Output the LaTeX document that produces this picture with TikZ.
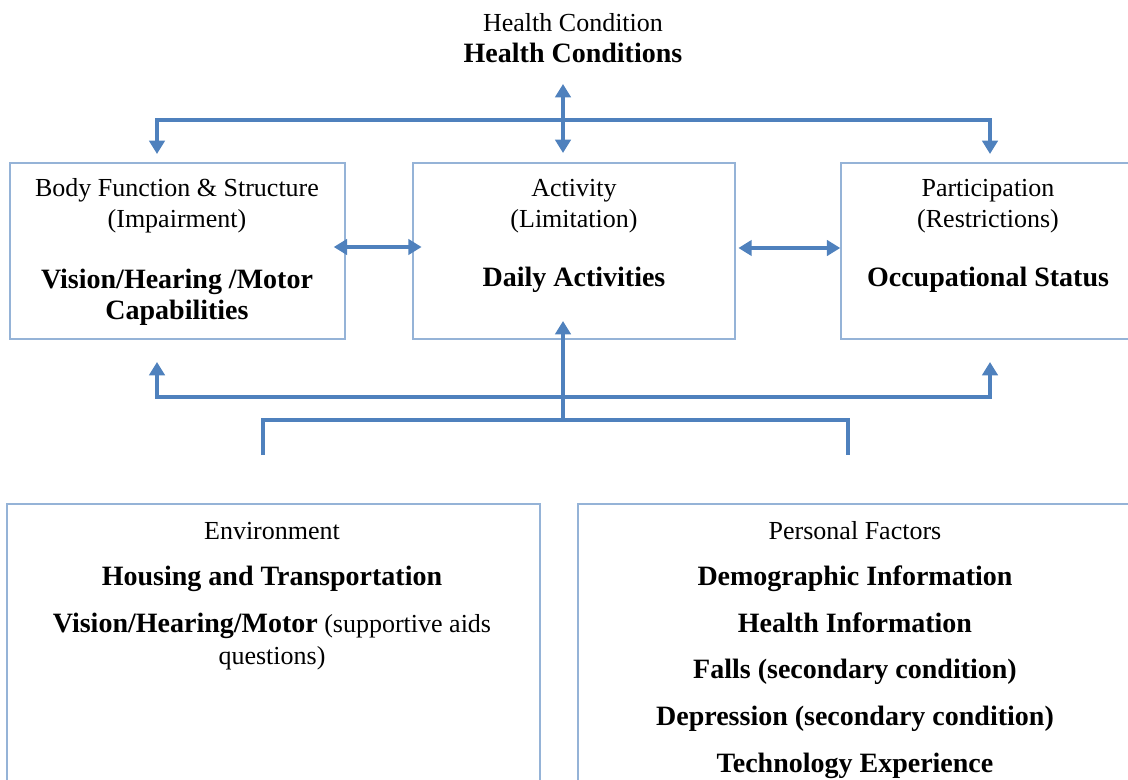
\documentclass[tikz,border=0pt]{standalone}
\usepackage{fontspec}
\setmainfont{Liberation Serif}
\usetikzlibrary{arrows.meta}
\definecolor{arrblue}{RGB}{79,129,189}
\definecolor{boxblue}{RGB}{149,179,215}
\tikzset{
  box/.style={draw=boxblue, line width=1.1pt, rectangle, inner sep=0pt},
  tip/.tip={Triangle[width=11.5pt,length=10pt]},
  arr/.style={draw=arrblue, line width=3pt, -tip},
  darr/.style={draw=arrblue, line width=3pt, tip-tip},
  plain/.style={draw=arrblue, line width=3pt},
  reg/.style={inner sep=0pt, anchor=base, font=\fontsize{19.5}{23}\selectfont},
  bld/.style={inner sep=0pt, anchor=base, font=\fontsize{21}{25}\selectfont\bfseries},
}
\begin{document}
\begin{tikzpicture}[x=0.75pt,y=-0.75pt]
\useasboundingbox (0,0) rectangle (1128,780);
% boxes
\node[box, minimum width=251.25pt, minimum height=132pt] (body) at (177.5,251) {};
\node[box, minimum width=241.5pt, minimum height=132pt] (act) at (574,251) {};
\node[box, minimum width=224.25pt, minimum height=132pt] (part) at (990.5,251) {};
\node[box, minimum width=399.75pt, minimum height=222pt] (env) at (273.5,652) {};
\node[box, minimum width=421.5pt, minimum height=222pt] (pers) at (859,652) {};
% texts
\node[reg] (hc1) at (573,32) {Health Condition};
\node[bld] (hc2) at (573,63) {Health Conditions};
\node[reg] (b1) at (177,197) {Body Function \& Structure};
\node[reg] (b2) at (177,228) {(Impairment)};
\node[bld] (b3) at (177,289) {Vision/Hearing /Motor};
\node[bld] (b4) at (177,320) {Capabilities};
\node[reg] (a1) at (574,197) {Activity};
\node[reg] (a2) at (574,228) {(Limitation)};
\node[bld] (a3) at (574,287) {Daily Activities};
\node[reg] (p1) at (988,197) {Participation};
\node[reg] (p2) at (988,228) {(Restrictions)};
\node[bld] (p3) at (988,287) {Occupational Status};
\node[reg] (e1) at (272,539) {Environment};
\node[bld] (e2) at (272,585) {Housing and Transportation};
\node[reg] (e3) at (272,632) {\textbf{\fontsize{21}{25}\selectfont Vision/Hearing/Motor} (supportive aids};
\node[reg] (e4) at (272,664) {questions)};
\node[reg] (f1) at (855,539) {Personal Factors};
\node[bld] (f2) at (855,585) {Demographic Information};
\node[bld] (f3) at (855,632) {Health Information};
\node[bld] (f4) at (855,678) {Falls (secondary condition)};
\node[bld] (f5) at (855,725) {Depression (secondary condition)};
\node[bld] (f6) at (855,772) {Technology Experience};
% coordinates
\coordinate (htop) at (563,84);
\coordinate (hbot) at (563,153);
\coordinate (tl) at (157,154);
\coordinate (tr) at (990,154);
\coordinate (bl) at (157,362);
\coordinate (br) at (990,362);
\coordinate (bm) at (563,397);
\coordinate (am) at (563,321);
\coordinate (brl) at (263,455);
\coordinate (brr) at (848,455);
\coordinate (brm) at (563,420);
% top connectors
\draw[darr] (htop) -- (hbot);
\draw[arr] (563,120) -| (tl);
\draw[arr] (563,120) -| (tr);
% horizontal arrows
\draw[darr] ([xshift=-9pt]body.east |- 0,247) -- ([xshift=7pt]act.west |- 0,247);
\draw[darr] ([xshift=2pt]act.east |- 0,248) -- (part.west |- 0,248);
% bottom connectors
\draw[arr] (bm) -| (bl);
\draw[arr] (bm) -| (br);
\draw[arr] (brm) -- (am);
\draw[plain] (brl) |- (brm) -| (brr);
\end{tikzpicture}
\end{document}
